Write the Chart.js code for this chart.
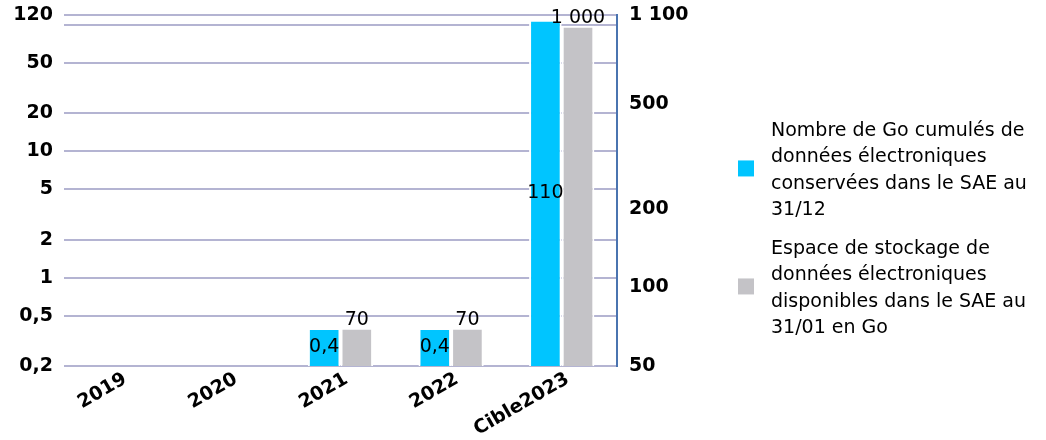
<!DOCTYPE html>
<html>
<head>
<meta charset="utf-8">
<script src="https://cdn.jsdelivr.net/npm/chart.js@4/dist/chart.umd.min.js"></script>
<style>
  html, body { margin: 0; padding: 0; background: #fff; }
  #wrap { width: 1046px; height: 440px; position: relative; }
</style>
</head>
<body>
<div id="wrap"><canvas id="saeChart" width="1046" height="440"></canvas></div>
<script>
// categories
const years = ["2019", "2020", "2021", "2022", "Cible2023"];

// Go cumulés conservés (axe gauche)
const goConserves = [null, null, 0.4, 0.4, 110];
// Espace de stockage disponible (axe droit)
const espaceStockage = [null, null, 70, 70, 1000];

// tick labels
const leftTicks = [0.2, 0.5, 1, 2, 5, 10, 20, 50, 100, 120];
const leftHidden = [100]; // gridline only, no label
const rightTicks = [50, 100, 200, 500, 1100];

const legendLines = [
  ["Nombre de Go cumulés de", "données électroniques", "conservées dans le SAE au", "31/12"],
  ["Espace de stockage de", "données électroniques", "disponibles dans le SAE au", "31/01 en Go"]
];

const colors = ["#00C5FF", "#C4C3C7"];
const FONT = "'DejaVu Sans', Verdana, sans-serif";

// format "0,4", "1 000"
function frNum(v) {
  let parts = String(v).split(".");
  parts[0] = parts[0].replace(/\B(?=(\d{3})+(?!\d))/g, " ");
  return parts.join(",");
}

// value labels on the bars
const valueLabels = {
  id: "valueLabels",
  afterDatasetsDraw(chart) {
    const ctx = chart.ctx;
    ctx.save();
    ctx.font = "19px " + FONT;
    ctx.fillStyle = "#000";
    ctx.textAlign = "center";
    chart.data.datasets.forEach((ds, i) => {
      const meta = chart.getDatasetMeta(i);
      meta.data.forEach((bar, j) => {
        const v = ds.data[j];
        if (v == null) return;
        const txt = frNum(v);
        if (i === 0) {
          ctx.textBaseline = "middle";
          ctx.fillText(txt, bar.x, (bar.y + bar.base) / 2);
        } else {
          ctx.textBaseline = "bottom";
          ctx.fillText(txt, bar.x, bar.y + 2);
        }
      });
    });
    ctx.restore();
  }
};

// multi-line legend on the right
const sideLegend = {
  id: "sideLegend",
  afterDraw(chart) {
    const ctx = chart.ctx;
    const area = chart.chartArea;
    const boxX = area.right + 121;
    const textX = boxX + 33;
    const lineH = 26.3;
    const starts = [131, 249];
    ctx.save();
    ctx.font = "19px " + FONT;
    ctx.textBaseline = "middle";
    ctx.textAlign = "left";
    legendLines.forEach((lines, i) => {
      const y0 = starts[i];
      lines.forEach((l, k) => {
        ctx.fillStyle = "#000";
        ctx.fillText(l, textX, y0 + k * lineH);
      });
      const mid = y0 + (lines.length - 1) * lineH / 2 - 2;
      ctx.fillStyle = colors[i];
      ctx.fillRect(boxX, mid - 8, 16, 16);
    });
    ctx.restore();
  }
};

// drop the extra space Chart.js keeps for half tick labels
function fitY(width) {
  return function (scale) {
    scale.width = width;
    scale.paddingTop = 0;
    scale.paddingBottom = 0;
  };
}

new Chart(document.getElementById("saeChart"), {
  type: "bar",
  data: {
    labels: years,
    datasets: [
      {
        label: legendLines[0].join(" "),
        data: goConserves,
        backgroundColor: colors[0],
        borderColor: "#fff",
        borderWidth: 2,
        yAxisID: "y",
        categoryPercentage: 0.59,
        barPercentage: 1.0
      },
      {
        label: legendLines[1].join(" "),
        data: espaceStockage,
        backgroundColor: colors[1],
        borderColor: "#fff",
        borderWidth: 2,
        yAxisID: "y2",
        categoryPercentage: 0.59,
        barPercentage: 1.0
      }
    ]
  },
  options: {
    responsive: false,
    animation: false,
    devicePixelRatio: 1,
    layout: { padding: { left: 0, right: 329, top: 15, bottom: 0 } },
    plugins: {
      legend: { display: false },
      tooltip: { enabled: false }
    },
    scales: {
      x: {
        grid: { display: false },
        border: { display: false },
        ticks: {
          color: "#000",
          font: { family: FONT, size: 19, weight: "bold" },
          minRotation: 30,
          maxRotation: 30,
          padding: -6,
          labelOffset: 6
        },
        afterFit(scale) {
          scale.height = 74;
          scale.paddingLeft = 0;
          scale.paddingRight = 0;
        }
      },
      y: {
        type: "logarithmic",
        position: "left",
        min: 0.2,
        max: 120,
        grid: { color: "#B4B4D2", lineWidth: 2, drawTicks: false },
        border: { display: false },
        afterBuildTicks(scale) {
          scale.ticks = leftTicks.map(v => ({ value: v }));
        },
        ticks: {
          color: "#000",
          padding: 11,
          font: { family: FONT, size: 19, weight: "bold" },
          callback: v => leftHidden.includes(v) ? "" : frNum(v)
        },
        afterFit: fitY(64)
      },
      y2: {
        type: "logarithmic",
        position: "right",
        min: 50,
        max: 1100,
        grid: { drawOnChartArea: false, drawTicks: false },
        border: { display: true, color: "#4A74B0", width: 2 },
        afterBuildTicks(scale) {
          scale.ticks = rightTicks.map(v => ({ value: v }));
        },
        ticks: {
          color: "#000",
          padding: 12,
          font: { family: FONT, size: 19, weight: "bold" },
          callback: v => frNum(v)
        },
        afterFit: fitY(100)
      }
    }
  },
  plugins: [valueLabels, sideLegend]
});
</script>
</body>
</html>
